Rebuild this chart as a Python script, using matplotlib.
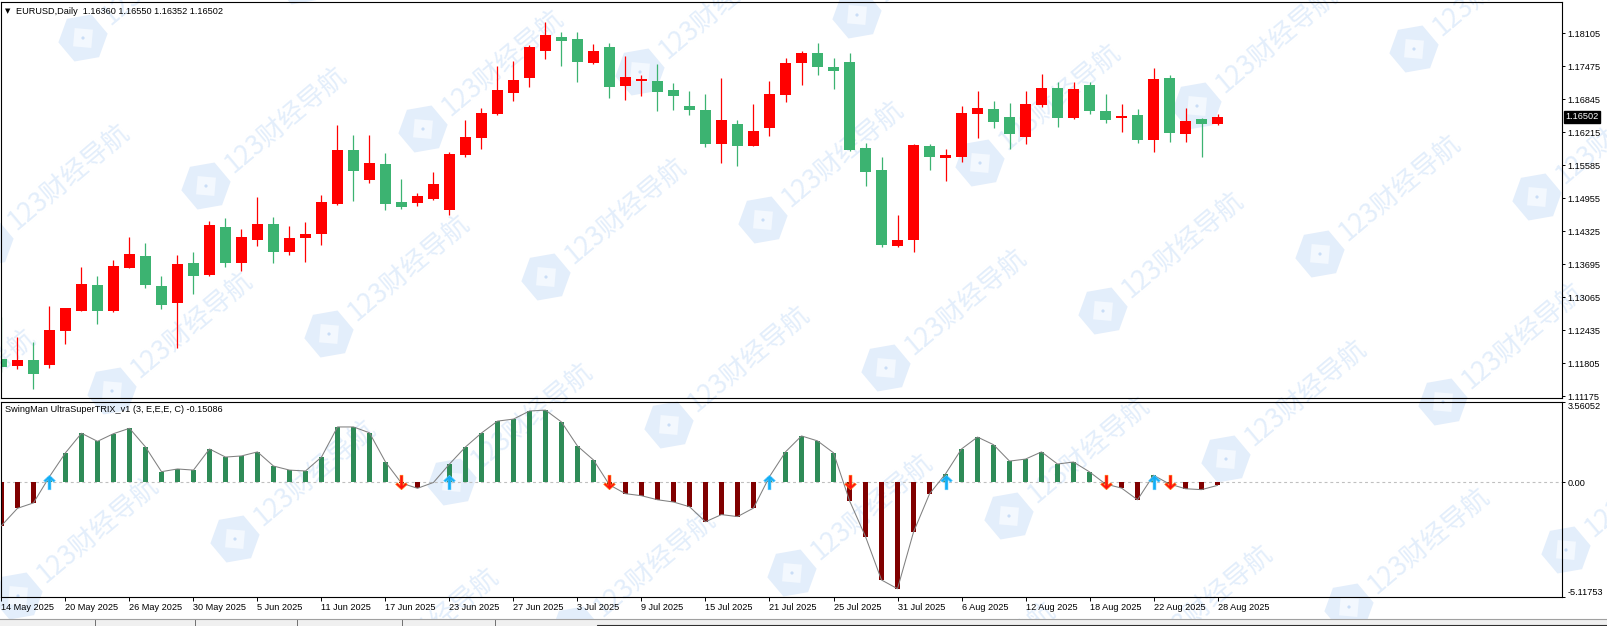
import numpy as np
import pandas as pd
import matplotlib
matplotlib.use("Agg")
import matplotlib.pyplot as plt
from matplotlib.patches import Rectangle, RegularPolygon, Circle
from matplotlib.transforms import IdentityTransform, blended_transform_factory

plt.rcParams["font.family"] = ["Liberation Sans", "DejaVu Sans"]

W, H = 1608, 626

# EURUSD daily bars, 14 May - 28 Aug 2025
dates = pd.bdate_range("2025-05-14", "2025-08-28")

opens = [1.11881, 1.11753, 1.11862, 1.11773, 1.12422, 1.12803, 1.13294, 1.12803, 1.13624, 1.13848,
         1.13275, 1.12956, 1.13714, 1.13491, 1.14401, 1.13720, 1.14159, 1.14459, 1.13930, 1.14197,
         1.14273, 1.14846, 1.15871, 1.15304, 1.15604, 1.14879, 1.14860, 1.14936, 1.14726, 1.15776,
         1.16106, 1.16559, 1.16965, 1.17252, 1.17767, 1.18029, 1.17990, 1.17538, 1.17838, 1.17099,
         1.17194, 1.17189, 1.17017, 1.16711, 1.16635, 1.15992, 1.16368, 1.15953, 1.16297, 1.16927,
         1.17538, 1.17723, 1.17456, 1.17551, 1.15910, 1.15490, 1.14044, 1.14159, 1.15948, 1.15724,
         1.15743, 1.16564, 1.16654, 1.16501, 1.16125, 1.16736, 1.17055, 1.16488, 1.17112, 1.16616,
         1.16488, 1.16540, 1.16068, 1.17246, 1.16183, 1.16463, 1.16360]
highs = [1.12689, 1.12307, 1.12206, 1.12893, 1.12855, 1.13638, 1.13466, 1.13771, 1.14210, 1.14096,
         1.13466, 1.13867, 1.13924, 1.14516, 1.14573, 1.14363, 1.14980, 1.14592, 1.14420, 1.14497,
         1.15012, 1.16349, 1.16158, 1.16158, 1.15814, 1.15318, 1.15050, 1.15451, 1.15833, 1.16444,
         1.16673, 1.17475, 1.17570, 1.17876, 1.18315, 1.18124, 1.18124, 1.17895, 1.17914, 1.17666,
         1.17303, 1.17513, 1.17150, 1.16998, 1.16940, 1.17246, 1.16444, 1.16750, 1.17189, 1.17628,
         1.17761, 1.17914, 1.17628, 1.17723, 1.16005, 1.15738, 1.14630, 1.15986, 1.15986, 1.15890,
         1.16711, 1.16998, 1.16807, 1.16769, 1.16998, 1.17322, 1.17170, 1.17170, 1.17170, 1.16940,
         1.16750, 1.16654, 1.17437, 1.17303, 1.16673, 1.16482, 1.16550]
lows = [1.11639, 1.11696, 1.11309, 1.11715, 1.12173, 1.12790, 1.12555, 1.12784, 1.13610, 1.13243,
        1.12842, 1.12097, 1.13128, 1.13472, 1.13643, 1.13567, 1.14044, 1.13720, 1.13873, 1.13739,
        1.14063, 1.14830, 1.14903, 1.15247, 1.14732, 1.14745, 1.14802, 1.14917, 1.14630, 1.15743,
        1.15896, 1.16540, 1.16813, 1.17080, 1.17614, 1.17481, 1.17175, 1.17519, 1.16870, 1.16832,
        1.16908, 1.16622, 1.16641, 1.16545, 1.15934, 1.15629, 1.15572, 1.15940, 1.16144, 1.16793,
        1.17118, 1.17309, 1.17042, 1.15858, 1.15190, 1.14025, 1.14025, 1.13918, 1.15495, 1.15285,
        1.15648, 1.16106, 1.16297, 1.15896, 1.15992, 1.16698, 1.16316, 1.16469, 1.16564, 1.16393,
        1.16221, 1.16011, 1.15839, 1.16030, 1.16030, 1.15743, 1.16352]
closes = [1.11734, 1.11862, 1.11601, 1.12435, 1.12855, 1.13313, 1.12803, 1.13657, 1.13886, 1.13300,
          1.12918, 1.13695, 1.13472, 1.14440, 1.13720, 1.14210, 1.14459, 1.13930, 1.14191, 1.14268,
          1.14879, 1.15871, 1.15476, 1.15623, 1.14846, 1.14789, 1.14993, 1.15222, 1.15795, 1.16120,
          1.16578, 1.17017, 1.17208, 1.17838, 1.18067, 1.17958, 1.17557, 1.17761, 1.17080, 1.17265,
          1.17233, 1.16984, 1.16908, 1.16641, 1.15992, 1.16444, 1.15953, 1.16234, 1.16940, 1.17532,
          1.17723, 1.17462, 1.17385, 1.15877, 1.15457, 1.14063, 1.14153, 1.15967, 1.15743, 1.15776,
          1.16578, 1.16673, 1.16412, 1.16183, 1.16750, 1.17055, 1.16488, 1.17036, 1.16622, 1.16450,
          1.16520, 1.16068, 1.17227, 1.16202, 1.16425, 1.16373, 1.16502]

# SwingMan UltraSuperTRIX histogram
trix = [-1.94, -1.17, -0.93, 0.24, 1.30, 2.17, 1.81, 2.15, 2.39, 1.56,
        0.46, 0.58, 0.53, 1.47, 1.11, 1.16, 1.34, 0.71, 0.53, 0.49,
        1.11, 2.45, 2.45, 2.19, 0.89, -0.05, -0.28, -0.02, 0.80, 1.56,
        2.18, 2.71, 2.80, 3.16, 3.20, 2.67, 1.60, 0.98, -0.13, -0.52,
        -0.61, -0.79, -0.89, -1.10, -1.77, -1.45, -1.54, -1.16, 0.24, 1.34,
        2.05, 1.83, 1.30, -0.83, -2.43, -4.36, -4.75, -2.23, -0.53, 0.36,
        1.47, 2.00, 1.66, 0.93, 1.02, 1.34, 0.80, 0.89, 0.45, -0.09,
        -0.27, -0.79, 0.30, -0.09, -0.30, -0.34, -0.15086]

price_ticks = [1.11175, 1.11805, 1.12435, 1.13065, 1.13695, 1.14325,
               1.14955, 1.15585, 1.16215, 1.16845, 1.17475, 1.18105]
trix_ticks = [-5.11753, 0.0, 3.56052]
trix_tick_labels = ["-5.11753", "0.00", "3.56052"]

FS = 6.6
fig = plt.figure(figsize=(W / 100, H / 100), dpi=100)
fig.patch.set_facecolor("white")

# watermark "123财经导航" tiled across the screenshot
wm = "#E3EEFB"
ang = np.deg2rad(40)
for a in range(-3, 9):
    for b in range(-2, 6):
        cx = 83 + 217 * a + 123 * b
        cy = 38 - 57 * a + 148 * b
        if -160 < cx < W + 40 and -60 < cy < H + 160:
            X, Y = cx, H - cy
            fig.add_artist(RegularPolygon((X, Y), 6, radius=25, orientation=ang,
                                          transform=IdentityTransform(), fc=wm, ec="none", zorder=-5))
            fig.add_artist(RegularPolygon((X, Y), 4, radius=13, orientation=ang,
                                          transform=IdentityTransform(), fc="#F3F8FE", ec="none", zorder=-4))
            fig.add_artist(Circle((X, Y), 1.6, transform=IdentityTransform(),
                                  fc="#C9DDF6", ec="none", zorder=-4))
            fig.text(X + 29 * np.cos(ang), Y + 29 * np.sin(ang), "123财经导航",
                     rotation=40, rotation_mode="anchor", ha="left", va="center",
                     fontsize=19, color=wm, family=["Noto Sans CJK SC", "DejaVu Sans"],
                     transform=IdentityTransform(), zorder=-5)

ax = fig.add_axes([1 / W, 1 - 398 / H, 1561 / W, 396 / H])
ax2 = fig.add_axes([1 / W, 1 - 597 / H, 1561 / W, 195 / H])
for a_ in (ax, ax2):
    a_.set_facecolor("none")
    for s in a_.spines.values():
        s.set_linewidth(0.8)
        s.set_color("black")
    a_.set_xlim(-0.03, 97.53)
    a_.yaxis.tick_right()
    a_.tick_params(axis="y", length=2.5, width=0.7, pad=1.5, labelsize=FS)

x = np.arange(len(dates))
o, h, l, c = map(np.array, (opens, highs, lows, closes))
up = c >= o
col = np.where(up, "#FF0000", "#3CB371")
ax.vlines(x, l, h, colors=col, lw=0.9)
ax.bar(x, np.maximum(np.abs(c - o), 0.00019), bottom=np.minimum(o, c),
       width=0.69, color=col, linewidth=0)
ax.set_ylim(1.11137, 1.18697)
ax.set_yticks(price_ticks)
ax.set_yticklabels([f"{v:.5f}" for v in price_ticks])
ax.set_xticks([])

# last price marker on the price scale
ax.text(1.0022, c[-1], f"{c[-1]:.5f}", transform=blended_transform_factory(ax.transAxes, ax.transData),
        ha="left", va="center", fontsize=FS, color="white",
        bbox=dict(boxstyle="square,pad=0.18", fc="black", ec="black"))

ax.text(4 / 1561, 1 - 9 / 396, "▼", transform=ax.transAxes, fontsize=5, va="center", ha="left",
        family=["DejaVu Sans"])
ax.text(15 / 1561, 1 - 9 / 396,
        f"EURUSD,Daily  {o[-1]:.5f} {h[-1]:.5f} {l[-1]:.5f} {c[-1]:.5f}",
        transform=ax.transAxes, fontsize=FS, va="center", ha="left")

# indicator panel
t = np.array(trix)
ax2.bar(x, t, width=0.31, color=np.where(t >= 0, "#2E8B57", "#800000"), linewidth=0, zorder=2)
ax2.plot(x, t, color="#808080", lw=0.75, zorder=3)
ax2.axhline(0, color="#C0C0C0", lw=0.8, dashes=(2.6, 2.6), zorder=1)
up_idx = np.where((t[1:] >= 0) & (t[:-1] < 0))[0] + 1
dn_idx = np.where((t[1:] < 0) & (t[:-1] >= 0))[0] + 1
up_arrow = [(0, 1), (0.8, 0.25), (0.55, 0.05), (0.2, 0.4), (0.2, -1),
            (-0.2, -1), (-0.2, 0.4), (-0.55, 0.05), (-0.8, 0.25), (0, 1)]
dn_arrow = [(px, -py) for px, py in up_arrow]
ax2.plot(up_idx, np.zeros(len(up_idx)), ls="none", marker=up_arrow, ms=10.5,
         mfc="#12AEF5", mec="#5CC8FF", mew=0.4, zorder=4)
ax2.plot(dn_idx, np.zeros(len(dn_idx)), ls="none", marker=dn_arrow, ms=10.5,
         mfc="#FF1010", mec="#FF7A00", mew=0.4, zorder=4)
ax2.set_ylim(trix_ticks[0], trix_ticks[-1])
ax2.set_yticks(trix_ticks)
ax2.set_yticklabels(trix_tick_labels)
tl = ax2.get_yticklabels()
tl[0].set_va("bottom")
tl[2].set_va("top")
ax2.text(4 / 1561, 1 - 8 / 195, f"SwingMan UltraSuperTRIX_v1 (3, E,E,E, C) {t[-1]:.5f}",
         transform=ax2.transAxes, fontsize=FS, va="center", ha="left")

tick_pos = x[::4]
ax2.set_xticks(tick_pos)
ax2.set_xticklabels([f"{d.day} {d:%b %Y}" for d in dates[::4]], ha="left")
ax2.tick_params(axis="x", length=3, width=0.7, pad=1.5, labelsize=FS)

# terminal tab strip at the bottom
fig.add_artist(Rectangle((0, 0), 1, 7 / H, transform=fig.transFigure, fc="#F0F0F0", ec="none"))
fig.add_artist(plt.Line2D([0, 1], [7.5 / H, 7.5 / H], transform=fig.transFigure, color="#A0A0A0", lw=0.8))
fig.add_artist(Rectangle((597 / W, -0.01), 1, 7 / H, transform=fig.transFigure,
                         fc="white", ec="#303030", lw=0.8))
for xs in (95, 195, 297, 402, 495):
    fig.add_artist(plt.Line2D([xs / W, xs / W], [0, 6 / H], transform=fig.transFigure, color="#707070", lw=0.7))

fig.savefig("out.png", dpi=100)
